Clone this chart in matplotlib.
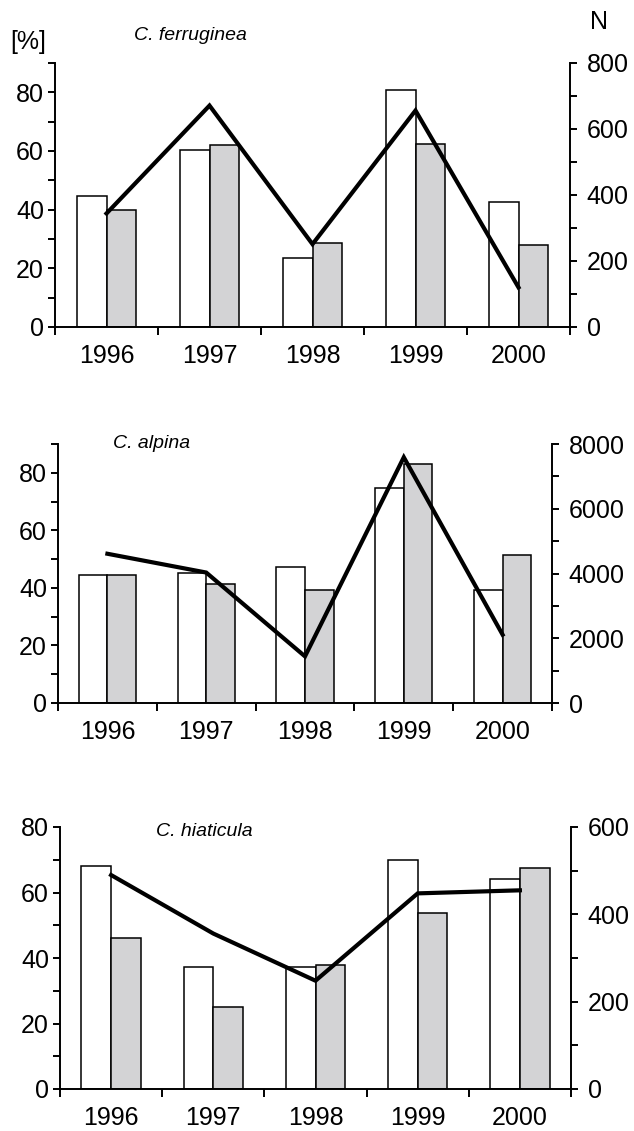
import matplotlib.pyplot as plt
from matplotlib.ticker import MultipleLocator, FixedLocator, NullFormatter
import numpy as np

plt.rcParams["font.family"] = ["Liberation Sans", "DejaVu Sans"]

W, H = 634, 1131

years = ["1996", "1997", "1998", "1999", "2000"]

# C. ferruginea
ferruginea_white = [44.6, 60.3, 23.4, 80.8, 42.5]
ferruginea_grey = [39.8, 62.2, 28.8, 62.3, 28.1]
ferruginea_n = [344, 671, 251, 656, 120]

# C. alpina
alpina_white = [44.5, 45.3, 47.2, 74.7, 39.3]
alpina_grey = [44.5, 41.2, 39.1, 83.1, 51.6]
alpina_n = [4610, 4030, 1440, 7590, 2110]

# C. hiaticula
hiaticula_white = [68.1, 37.4, 37.4, 69.8, 64.1]
hiaticula_grey = [46.2, 25.1, 38.0, 53.6, 67.5]
hiaticula_n = [490, 356, 248, 448, 455]

fig = plt.figure(figsize=(W / 100, H / 100), dpi=100)


def px_rect(left, top, right, bottom):
    return [left / W, 1 - bottom / H, (right - left) / W, (bottom - top) / H]


def panel(box, white, grey, n, left_max, right_max, right_step, name, name_px):
    ax = fig.add_axes(px_rect(*box))
    x = np.arange(len(years))
    w = 0.29
    ax.bar(x - w / 2, white, w, color="white", edgecolor="black", linewidth=1.1, zorder=2)
    ax.bar(x + w / 2, grey, w, color="#d3d3d5", edgecolor="black", linewidth=1.1, zorder=2)

    ax.set_xlim(-0.5, len(years) - 0.5)
    ax.set_ylim(0, left_max)
    ax.xaxis.set_major_locator(FixedLocator(np.arange(-0.5, len(years))))
    ax.xaxis.set_major_formatter(NullFormatter())
    ax.xaxis.set_minor_locator(FixedLocator(x))
    ax.set_xticklabels(years, minor=True)
    ax.tick_params(axis="x", which="major", direction="out", length=6, width=1.4)
    ax.tick_params(axis="x", which="minor", length=0, pad=12, labelsize=18)
    ax.yaxis.set_major_locator(MultipleLocator(20))
    ax.yaxis.set_minor_locator(MultipleLocator(10))
    ax.tick_params(axis="y", which="both", direction="out", length=5, width=1.4,
                   labelsize=18, pad=3)
    for side in ["top", "right"]:
        ax.spines[side].set_visible(False)
    for side in ["left", "bottom"]:
        ax.spines[side].set_linewidth(1.4)

    ax2 = ax.twinx()
    ax2.plot(x, n, color="black", linewidth=3.0, solid_joinstyle="miter", zorder=3)
    ax2.set_ylim(0, right_max)
    ax2.yaxis.set_major_locator(MultipleLocator(right_step))
    ax2.yaxis.set_minor_locator(MultipleLocator(right_step / 2))
    ax2.tick_params(axis="y", which="both", direction="out", length=5, width=1.4,
                    labelsize=18, pad=7)
    for side in ["top", "left", "bottom"]:
        ax2.spines[side].set_visible(False)
    ax2.spines["right"].set_linewidth(1.4)

    fig.text(name_px[0] / W, 1 - name_px[1] / H, name, fontsize=14,
             style="italic", va="center", ha="left")
    return ax


panel((55, 63, 570, 327), ferruginea_white, ferruginea_grey, ferruginea_n,
      90, 800, 200, "C. ferruginea", (134, 36))
panel((58, 444, 552, 703), alpina_white, alpina_grey, alpina_n,
      90, 8000, 2000, "C. alpina", (113, 444))
panel((60, 827, 571, 1089), hiaticula_white, hiaticula_grey, hiaticula_n,
      80, 600, 200, "C. hiaticula", (156, 831))

fig.text(10 / W, 1 - 42 / H, "[%]", fontsize=18, va="center", ha="left")
fig.text(599 / W, 1 - 22 / H, "N", fontsize=18, va="center", ha="center")

fig.savefig("out.png", dpi=100)
